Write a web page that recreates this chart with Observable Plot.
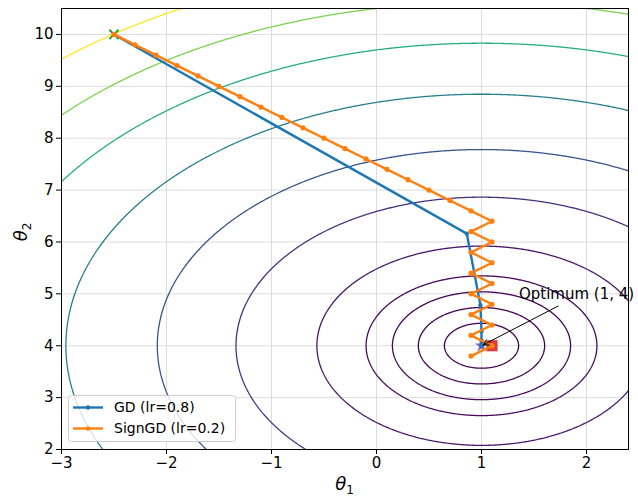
<!DOCTYPE html>
<html>
<head>
<meta charset="utf-8">
<script src="https://cdn.jsdelivr.net/npm/d3@7"></script>
<script src="https://cdn.jsdelivr.net/npm/@observablehq/plot@0.6"></script>
<style>
  html, body { margin: 0; padding: 0; background: #fff; }
  #chart { width: 638px; height: 498px; }
</style>
</head>
<body>
<div id="chart"></div>
<script>
// Axis ticks
const xTicks = [-3, -2, -1, 0, 1, 2];
const yTicks = [2, 3, 4, 5, 6, 7, 8, 9, 10];

// Quadratic loss  L = a·(θ1 − 1)² + b·(θ2 − 4)²
const optimum = [1, 4];
const curvature = [0.6, 0.4];
const levels = [0.075, 0.217, 0.432, 0.725, 1.475, 3.28, 5.72, 9.4, 13.6, 17.5, 21.8];

// Gradient descent iterates (lr = 0.8)
const gdTheta1 = [-2.5, 0.86, 0.99, 1.0, 1.0, 1.0, 1.0, 1.0];
const gdTheta2 = [10, 6.16, 4.78, 4.28, 4.10, 4.04, 4.01, 4.0];

// Sign gradient descent iterates (lr = 0.2)
const signTheta1 = [-2.5, -2.3, -2.1, -1.9, -1.7, -1.5, -1.3, -1.1, -0.9, -0.7, -0.5, -0.3, -0.1,
  0.1, 0.3, 0.5, 0.7, 0.9, 1.1, 0.9, 1.1, 0.9, 1.1, 0.9, 1.1, 0.9, 1.1, 0.9, 1.1, 0.9, 1.1, 0.9, 1.1];
const signTheta2 = [10, 9.8, 9.6, 9.4, 9.2, 9.0, 8.8, 8.6, 8.4, 8.2, 8.0, 7.8, 7.6,
  7.4, 7.2, 7.0, 6.8, 6.6, 6.4, 6.2, 6.0, 5.8, 5.6, 5.4, 5.2, 5.0, 4.8, 4.6, 4.4, 4.2, 4.0, 3.8, 4.0];

const seriesNames = ["GD (lr=0.8)", "SignGD (lr=0.2)"];
const seriesColors = ["#1f77b4", "#ff7f0e"];

// Annotation: label position and arrow tail
const labelAt = [1.357, 5.0];
const arrowTail = [1.73, 4.765];

const gd = gdTheta1.map((t, i) => ({t1: t, t2: gdTheta2[i]}));
const sgd = signTheta1.map((t, i) => ({t1: t, t2: signTheta2[i]}));
const start = [gd[0]];
const gdEnd = [gd[gd.length - 1]];
const sgdEnd = [sgd[sgd.length - 1]];

const loss = (x, y) => curvature[0] * (x - optimum[0]) ** 2 + curvature[1] * (y - optimum[1]) ** 2;
const intLabel = d => (d < 0 ? "\u2212" : "") + Math.abs(d);

const chart = Plot.plot({
  width: 638,
  height: 498,
  marginLeft: 61,
  marginRight: 10,
  marginTop: 8,
  marginBottom: 49,
  style: {fontFamily: "DejaVu Sans", fontSize: "15px", background: "white", color: "black", overflow: "visible"},
  x: {domain: [-3, 2.4], ticks: xTicks},
  y: {domain: [2, 10.5], ticks: yTicks},
  color: {type: "linear", scheme: "viridis", domain: [levels[0], levels[levels.length - 1]]},
  marks: [
    Plot.gridX(xTicks, {stroke: "#dcdcdc", strokeOpacity: 1, strokeWidth: 1}),
    Plot.gridY(yTicks, {stroke: "#dcdcdc", strokeOpacity: 1, strokeWidth: 1}),
    Plot.contour({
      value: loss,
      x1: -3.3, x2: 2.7, y1: 1.7, y2: 10.8,
      thresholds: levels,
      stroke: "value",
      fill: "none",
      strokeWidth: 1.3,
      pixelSize: 1,
      clip: true
    }),
    Plot.dot(start, {x: "t1", y: "t2", symbol: "times", r: 4.3, stroke: "#2ca02c", strokeWidth: 2, clip: true}),
    Plot.dot(gdEnd, {x: "t1", y: "t2", symbol: "star", r: 4.2, fill: "#9467bd", stroke: "none"}),
    Plot.dot(sgdEnd, {x: "t1", y: "t2", symbol: "square", r: 6.3, fill: "#d62728", fillOpacity: 0.9, stroke: "none"}),
    Plot.line(gd, {x: "t1", y: "t2", stroke: seriesColors[0], strokeWidth: 2.4}),
    Plot.dot(gd, {x: "t1", y: "t2", r: 2.2, fill: seriesColors[0], stroke: "none"}),
    Plot.line(sgd, {x: "t1", y: "t2", stroke: seriesColors[1], strokeWidth: 2.4}),
    Plot.dot(sgd, {x: "t1", y: "t2", r: 2.6, fill: seriesColors[1], stroke: "none"}),
    Plot.arrow([{}], {
      x1: () => arrowTail[0], y1: () => arrowTail[1],
      x2: () => optimum[0], y2: () => optimum[1],
      stroke: "black", strokeWidth: 1, headLength: 9, insetEnd: 2
    }),
    Plot.text([`Optimum (${optimum[0]}, ${optimum[1]})`], {
      x: () => labelAt[0], y: () => labelAt[1], text: d => d,
      textAnchor: "start", lineAnchor: "middle", fontSize: 15, fill: "black"
    }),
    Plot.frame({stroke: "black", strokeWidth: 1}),
    Plot.axisX({ticks: xTicks, tickSize: 5, tickPadding: 3, label: null, fontSize: 15, tickFormat: intLabel}),
    Plot.axisY({ticks: yTicks, tickSize: 5, tickPadding: 3, label: null, fontSize: 15, tickFormat: intLabel})
  ]
});

document.getElementById("chart").appendChild(chart);

// Axis titles and legend
const svg = d3.select(chart);
const xLab = svg.append("text")
  .attr("x", 344.5).attr("y", 490)
  .attr("text-anchor", "middle")
  .style("font-family", "DejaVu Sans").style("font-size", "18px").style("fill", "black");
xLab.append("tspan").style("font-style", "italic").text("θ");
xLab.append("tspan").attr("dy", 4).style("font-size", "12px").text("1");

const yLab = svg.append("text")
  .attr("transform", "translate(27,232) rotate(-90)")
  .attr("text-anchor", "middle")
  .style("font-family", "DejaVu Sans").style("font-size", "18px").style("fill", "black");
yLab.append("tspan").style("font-style", "italic").text("θ");
yLab.append("tspan").attr("dy", 4).style("font-size", "12px").text("2");

const legend = svg.append("g").attr("text-anchor", "start");
legend.append("rect")
  .attr("x", 68.5).attr("y", 395.5).attr("width", 167).attr("height", 46).attr("rx", 3)
  .attr("fill", "white").attr("fill-opacity", 0.8).attr("stroke", "#cccccc");
seriesNames.forEach((name, i) => {
  const cy = 407.5 + i * 21;
  legend.append("line").attr("x1", 73).attr("x2", 103).attr("y1", cy).attr("y2", cy)
    .attr("stroke", seriesColors[i]).attr("stroke-width", 2.4);
  legend.append("circle").attr("cx", 88).attr("cy", cy).attr("r", 2.2).attr("fill", seriesColors[i]);
  legend.append("text").attr("x", 114).attr("y", cy).attr("dy", "0.35em")
    .attr("text-anchor", "start")
    .style("font-family", "DejaVu Sans").style("font-size", "14px").style("fill", "black")
    .text(name);
});
</script>
</body>
</html>
